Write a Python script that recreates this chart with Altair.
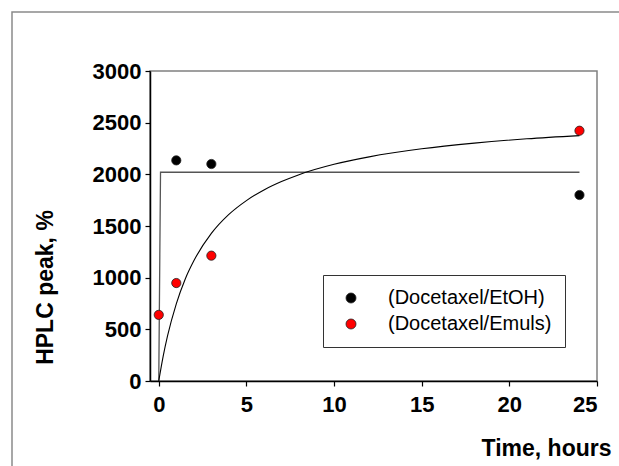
import altair as alt
import pandas as pd

# Data
time_etoh = [1, 3, 24]
hplc_etoh = [2135, 2100, 1800]
time_emuls = [0, 1, 3, 24]
hplc_emuls = [640, 948, 1213, 2422]
series_names = ["(Docetaxel/EtOH)", "(Docetaxel/Emuls)"]
series_colors = ["#000000", "#ff0000"]

step_time = [0, 0.1, 24]
step_value = [0, 2020, 2020]

curve_time = [0, 0.25, 0.5, 1, 1.5, 2, 3, 4, 5, 6, 7, 8, 10, 12, 15, 18, 21, 24]
curve_value = [0, 238, 436, 747, 983, 1163, 1428, 1612, 1746, 1849, 1930, 1997,
               2097, 2169, 2247, 2302, 2344, 2375]

x_ticks = [0, 5, 10, 15, 20, 25]
y_ticks = [0, 500, 1000, 1500, 2000, 2500, 3000]

pts = pd.DataFrame({
    "t": time_etoh + time_emuls,
    "v": hplc_etoh + hplc_emuls,
    "s": [series_names[0]] * len(time_etoh) + [series_names[1]] * len(time_emuls),
})
step = pd.DataFrame({"t": step_time, "v": step_value, "i": range(len(step_time))})
curve = pd.DataFrame({"t": curve_time, "v": curve_value})

FONT = "Liberation Sans"

xs = alt.Scale(domain=[-0.5, 25], nice=False, zero=False)
ys = alt.Scale(domain=[0, 3000], nice=False)

x_axis = alt.Axis(values=x_ticks, format="d", title="Time, hours", titleX=461, titleY=67,
                  titleAlign="right", titleBaseline="middle", labelPadding=8)
y_axis = alt.Axis(values=y_ticks, format="d", title="HPLC peak, %", titleX=-105, titleY=216,
                  titleAlign="center", titleBaseline="middle", labelPadding=4)

frame = alt.Chart(pd.DataFrame({"a": [1]})).mark_rect(
    fill=None, stroke="#8a8a8a", strokeWidth=1.5, clip=False
).encode(
    x=alt.value(-138), x2=alt.value(480), y=alt.value(-59), y2=alt.value(400)
)

step_line = alt.Chart(step).mark_line(color="#555555", strokeWidth=1.3).encode(
    x=alt.X("t:Q", scale=xs, axis=x_axis),
    y=alt.Y("v:Q", scale=ys, axis=y_axis),
    order="i:Q",
)

curve_line = alt.Chart(curve).mark_line(color="#000000", strokeWidth=1.1,
                                        interpolate="monotone").encode(
    x=alt.X("t:Q", scale=xs),
    y=alt.Y("v:Q", scale=ys),
)

points = alt.Chart(pts).mark_circle(size=85, opacity=1, stroke="#222222",
                                    strokeWidth=0.8).encode(
    x=alt.X("t:Q", scale=xs),
    y=alt.Y("v:Q", scale=ys),
    color=alt.Color("s:N", sort=series_names,
                    scale=alt.Scale(domain=series_names, range=series_colors),
                    legend=alt.Legend(title=None, orient="none", legendX=173, legendY=204,
                                      strokeColor="#333333", padding=13,
                                      symbolOffset=5, labelOffset=27,
                                      symbolType="circle", symbolSize=100,
                                      symbolStrokeColor="#222222", symbolStrokeWidth=0.8,
                                      labelFont=FONT, labelFontSize=20,
                                      labelColor="#000000", rowPadding=6,
                                      labelLimit=400)),
)

chart = alt.layer(frame, step_line, curve_line, points).properties(
    width=447, height=310,
    autosize=alt.AutoSizeParams(type="none"),
    padding={"left": 150, "top": 71, "right": 22, "bottom": 85},
    background="white",
).configure_view(
    stroke="#808080", strokeWidth=1.5
).configure_axis(
    grid=False,
    labelFont=FONT, labelFontSize=22, labelFontWeight="bold", labelColor="#000000",
    titleFont=FONT, titleFontSize=23, titleFontWeight="bold", titleColor="#000000",
    domainColor="#000000", domainWidth=1.5, tickColor="#000000", tickWidth=1.2,
    tickSize=5,
)

chart.save("out.html", embed_options={"renderer": "svg", "actions": False})
